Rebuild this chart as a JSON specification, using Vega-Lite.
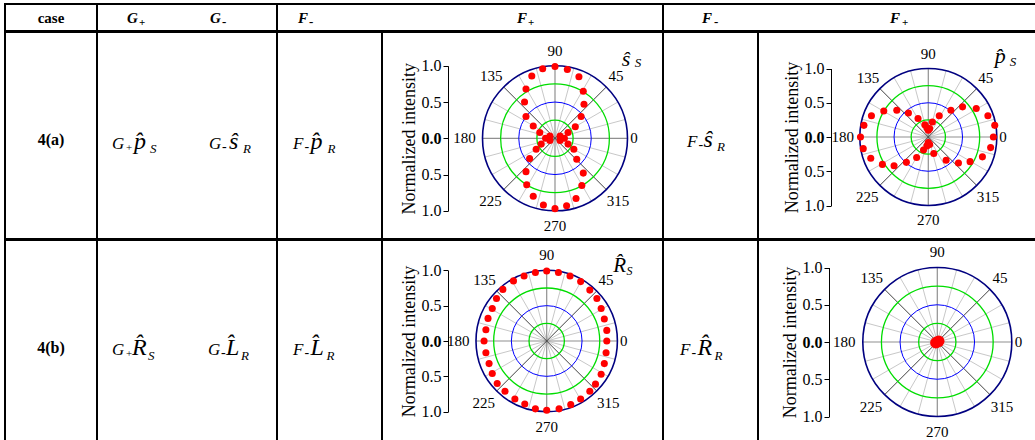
{
  "$schema": "https://vega.github.io/schema/vega-lite/v6.json",
  "background": "white",
  "padding": {"left": 4, "top": 3, "right": -2, "bottom": -2},
  "spacing": -2,
  "config": {
    "view": {"stroke": "black", "strokeWidth": 2},
    "font": "Liberation Serif, DejaVu Serif, serif",
    "mark": {"font": "Liberation Serif, DejaVu Serif, serif"},
    "text": {"font": "Liberation Serif, DejaVu Serif, serif", "color": "black"}
  },
  "datasets": {
    "spokes": [
      {"k": "main", "x": 1, "y": 0, "x2": -1, "y2": 0},
      {"k": "minor", "x": 0.9659, "y": 0.2588, "x2": -0.9659, "y2": -0.2588},
      {"k": "minor", "x": 0.866, "y": 0.5, "x2": -0.866, "y2": -0.5},
      {"k": "diag", "x": 0.7071, "y": 0.7071, "x2": -0.7071, "y2": -0.7071},
      {"k": "minor", "x": 0.5, "y": 0.866, "x2": -0.5, "y2": -0.866},
      {"k": "minor", "x": 0.2588, "y": 0.9659, "x2": -0.2588, "y2": -0.9659},
      {"k": "main", "x": 0, "y": 1, "x2": 0, "y2": -1},
      {"k": "minor", "x": -0.2588, "y": 0.9659, "x2": 0.2588, "y2": -0.9659},
      {"k": "minor", "x": -0.5, "y": 0.866, "x2": 0.5, "y2": -0.866},
      {"k": "diag", "x": -0.7071, "y": 0.7071, "x2": 0.7071, "y2": -0.7071},
      {"k": "minor", "x": -0.866, "y": 0.5, "x2": 0.866, "y2": -0.5},
      {"k": "minor", "x": -0.9659, "y": 0.2588, "x2": 0.9659, "y2": -0.2588}
    ],
    "rings": [
      {"k": "g", "r": 0.25}, {"k": "b", "r": 0.5}, {"k": "g", "r": 0.75}, {"k": "o", "r": 1}
    ],
    "angles": [
      {"lab": "0", "u": 1.09, "v": 0},
      {"lab": "45", "u": 0.84, "v": 0.86},
      {"lab": "90", "u": 0, "v": 1.21},
      {"lab": "135", "u": -0.88, "v": 0.86},
      {"lab": "180", "u": -1.25, "v": 0},
      {"lab": "225", "u": -0.89, "v": -0.87},
      {"lab": "270", "u": 0, "v": -1.21},
      {"lab": "315", "u": 0.87, "v": -0.87}
    ],
    "dots1": [
      {"u": 0, "v": 0.99}, {"u": 0.17, "v": 0.95}, {"u": -0.17, "v": 0.96}, {"u": 0.33, "v": 0.85}, {"u": -0.32, "v": 0.86},
      {"u": 0.39, "v": 0.65}, {"u": -0.4, "v": 0.68}, {"u": 0.4, "v": 0.47}, {"u": -0.42, "v": 0.5}, {"u": 0.36, "v": 0.3},
      {"u": -0.4, "v": 0.3}, {"u": 0.28, "v": 0.16}, {"u": -0.3, "v": 0.17}, {"u": 0.18, "v": 0.08}, {"u": -0.21, "v": 0.08},
      {"u": -0.13, "v": 0.0}, {"u": -0.07, "v": 0.03}, {"u": 0.07, "v": 0.03}, {"u": 0.13, "v": 0.0}, {"u": -0.07, "v": -0.03}, {"u": 0.07, "v": -0.03},
      {"u": 0, "v": -0.97}, {"u": 0.16, "v": -0.93}, {"u": -0.16, "v": -0.92}, {"u": 0.29, "v": -0.83}, {"u": -0.3, "v": -0.8},
      {"u": 0.37, "v": -0.65}, {"u": -0.39, "v": -0.64}, {"u": 0.39, "v": -0.48}, {"u": -0.4, "v": -0.46}, {"u": 0.3, "v": -0.29},
      {"u": -0.35, "v": -0.28}, {"u": 0.26, "v": -0.15}, {"u": -0.26, "v": -0.15}, {"u": 0.18, "v": -0.08}, {"u": -0.19, "v": -0.08}
    ],
    "dots2": [
      {"u": -0.99, "v": 0}, {"u": -0.94, "v": 0.17}, {"u": -0.95, "v": -0.17}, {"u": -0.83, "v": 0.31}, {"u": -0.84, "v": -0.31},
      {"u": -0.65, "v": 0.38}, {"u": -0.67, "v": -0.4}, {"u": -0.46, "v": 0.39}, {"u": -0.5, "v": -0.42}, {"u": -0.29, "v": 0.35},
      {"u": -0.32, "v": -0.37}, {"u": -0.15, "v": 0.27}, {"u": -0.17, "v": -0.3}, {"u": -0.05, "v": 0.18}, {"u": -0.07, "v": -0.19},
      {"u": 0.97, "v": 0.17}, {"u": 0.95, "v": 0}, {"u": 0.91, "v": -0.155}, {"u": 0.87, "v": 0.31}, {"u": 0.79, "v": -0.29},
      {"u": 0.7, "v": 0.415}, {"u": 0.61, "v": -0.36}, {"u": 0.5, "v": 0.44}, {"u": 0.44, "v": -0.38}, {"u": 0.33, "v": 0.39},
      {"u": 0.26, "v": -0.34}, {"u": 0.16, "v": 0.31}, {"u": 0.08, "v": -0.24}, {"u": 0.06, "v": 0.22},
      {"u": -0.02, "v": 0.135}, {"u": 0.02, "v": 0.125}, {"u": 0, "v": 0.1}, {"u": -0.02, "v": -0.13}, {"u": 0.02, "v": -0.11}, {"u": 0, "v": -0.08}
    ],
    "dots3": [
      {"u": -0.886, "v": 0}, {"u": -0.86, "v": 0.16}, {"u": -0.86, "v": -0.166}, {"u": -0.83, "v": 0.32}, {"u": -0.815, "v": -0.32},
      {"u": -0.77, "v": 0.46}, {"u": -0.77, "v": -0.46}, {"u": -0.71, "v": 0.6}, {"u": -0.7, "v": -0.6}, {"u": -0.62, "v": 0.73},
      {"u": -0.59, "v": -0.71}, {"u": -0.47, "v": 0.85}, {"u": -0.45, "v": -0.82}, {"u": -0.32, "v": 0.92}, {"u": -0.31, "v": -0.89},
      {"u": -0.16, "v": 0.97}, {"u": -0.16, "v": -0.96}, {"u": 0, "v": 0.99}, {"u": 0, "v": -0.98},
      {"u": 0.166, "v": 0.97}, {"u": 0.33, "v": 0.92}, {"u": 0.48, "v": 0.84}, {"u": 0.61, "v": 0.72}, {"u": 0.71, "v": 0.6},
      {"u": 0.77, "v": 0.46}, {"u": 0.815, "v": 0.31}, {"u": 0.85, "v": 0.15}, {"u": 0.85, "v": 0}, {"u": 0.84, "v": -0.166},
      {"u": 0.815, "v": -0.32}, {"u": 0.77, "v": -0.47}, {"u": 0.69, "v": -0.61}, {"u": 0.61, "v": -0.71}, {"u": 0.48, "v": -0.82},
      {"u": 0.34, "v": -0.9}, {"u": 0.175, "v": -0.96}
    ],
    "dots4": [
      {"u": 0, "v": 0}, {"u": 0.02, "v": 0.01}, {"u": -0.02, "v": -0.01}
    ]
  },
  "vconcat": [
    {
      "bounds": "flush",
      "spacing": 0,
      "hconcat": [
        {
          "width": 92, "height": 27,
          "data": {"values": [{"t": "case"}]},
          "mark": {"type": "text", "fontSize": 15, "fontWeight": "bold", "baseline": "alphabetic", "dy": 5.5},
          "encoding": {"x": {"datum": 0, "type": "quantitative", "axis": null, "scale": {"domain": [-1, 1]}}, "y": {"datum": 0, "type": "quantitative", "axis": null, "scale": {"domain": [-1, 1]}}, "text": {"field": "t"}}
        },
        {
          "width": 180, "height": 27,
          "data": {"values": [{"a": "G", "p": "+", "m": "-"}]},
          "encoding": {"x": {"datum": 0, "type": "quantitative", "axis": null, "scale": {"domain": [-1, 1]}}, "y": {"datum": 0, "type": "quantitative", "axis": null, "scale": {"domain": [-1, 1]}}},
          "layer": [
            {"mark": {"type": "text", "fontSize": 15, "fontWeight": "bold", "fontStyle": "italic", "align": "left", "baseline": "alphabetic", "dx": -60, "dy": 5.5}, "encoding": {"text": {"field": "a"}}},
            {"mark": {"type": "text", "fontSize": 11, "fontWeight": "bold", "align": "left", "baseline": "alphabetic", "dx": -48, "dy": 8}, "encoding": {"text": {"field": "p"}}},
            {"mark": {"type": "text", "fontSize": 15, "fontWeight": "bold", "fontStyle": "italic", "align": "left", "baseline": "alphabetic", "dx": 23, "dy": 5.5}, "encoding": {"text": {"field": "a"}}},
            {"mark": {"type": "text", "fontSize": 13, "fontWeight": "bold", "align": "left", "baseline": "alphabetic", "dx": 35, "dy": 8}, "encoding": {"text": {"field": "m"}}}
          ]
        },
        {
          "width": 386, "height": 27,
          "data": {"values": [{"a": "F", "p": "+", "m": "-"}]},
          "encoding": {"x": {"datum": 0, "type": "quantitative", "axis": null, "scale": {"domain": [-1, 1]}}, "y": {"datum": 0, "type": "quantitative", "axis": null, "scale": {"domain": [-1, 1]}}},
          "layer": [
            {"mark": {"type": "text", "fontSize": 15, "fontWeight": "bold", "fontStyle": "italic", "align": "left", "baseline": "alphabetic", "dx": -172, "dy": 5.5}, "encoding": {"text": {"field": "a"}}},
            {"mark": {"type": "text", "fontSize": 13, "fontWeight": "bold", "align": "left", "baseline": "alphabetic", "dx": -161, "dy": 8}, "encoding": {"text": {"field": "m"}}},
            {"mark": {"type": "text", "fontSize": 15, "fontWeight": "bold", "fontStyle": "italic", "align": "left", "baseline": "alphabetic", "dx": 47, "dy": 5.5}, "encoding": {"text": {"field": "a"}}},
            {"mark": {"type": "text", "fontSize": 11, "fontWeight": "bold", "align": "left", "baseline": "alphabetic", "dx": 58, "dy": 8}, "encoding": {"text": {"field": "p"}}}
          ]
        },
        {
          "width": 373, "height": 27,
          "data": {"values": [{"a": "F", "p": "+", "m": "-"}]},
          "encoding": {"x": {"datum": 0, "type": "quantitative", "axis": null, "scale": {"domain": [-1, 1]}}, "y": {"datum": 0, "type": "quantitative", "axis": null, "scale": {"domain": [-1, 1]}}},
          "layer": [
            {"mark": {"type": "text", "fontSize": 15, "fontWeight": "bold", "fontStyle": "italic", "align": "left", "baseline": "alphabetic", "dx": -147.5, "dy": 5.5}, "encoding": {"text": {"field": "a"}}},
            {"mark": {"type": "text", "fontSize": 13, "fontWeight": "bold", "align": "left", "baseline": "alphabetic", "dx": -135.5, "dy": 8}, "encoding": {"text": {"field": "m"}}},
            {"mark": {"type": "text", "fontSize": 15, "fontWeight": "bold", "fontStyle": "italic", "align": "left", "baseline": "alphabetic", "dx": 40.5, "dy": 5.5}, "encoding": {"text": {"field": "a"}}},
            {"mark": {"type": "text", "fontSize": 11, "fontWeight": "bold", "align": "left", "baseline": "alphabetic", "dx": 52.5, "dy": 8}, "encoding": {"text": {"field": "p"}}}
          ]
        }
      ]
    },
    {
      "bounds": "flush",
      "spacing": 0,
      "hconcat": [
        {
          "width": 92, "height": 207,
          "data": {"values": [{"t": "4(a)"}]},
          "mark": {"type": "text", "fontSize": 16, "fontWeight": "bold", "baseline": "alphabetic", "dy": 9},
          "encoding": {"x": {"datum": 0, "type": "quantitative", "axis": null, "scale": {"domain": [-1, 1]}}, "y": {"datum": 0, "type": "quantitative", "axis": null, "scale": {"domain": [-1, 1]}}, "text": {"field": "t"}}
        },
        {
          "width": 180, "height": 207,
          "data": {"values": [{"g": "G", "p": "+", "m": "-", "h1": "p̂", "s1": "S", "h2": "ŝ", "s2": "R"}]},
          "encoding": {"x": {"datum": 0, "type": "quantitative", "axis": null, "scale": {"domain": [-1, 1]}}, "y": {"datum": 0, "type": "quantitative", "axis": null, "scale": {"domain": [-1, 1]}}},
          "layer": [
            {"mark": {"type": "text", "fontSize": 17, "fontStyle": "italic", "align": "left", "baseline": "alphabetic", "dx": -75, "dy": 13}, "encoding": {"text": {"field": "g"}}},
            {"mark": {"type": "text", "fontSize": 11, "align": "left", "baseline": "alphabetic", "dx": -61, "dy": 15}, "encoding": {"text": {"field": "p"}}},
            {"mark": {"type": "text", "fontSize": 24, "fontStyle": "italic", "align": "left", "baseline": "alphabetic", "dx": -53, "dy": 13}, "encoding": {"text": {"field": "h1"}}},
            {"mark": {"type": "text", "fontSize": 13, "fontStyle": "italic", "align": "left", "baseline": "alphabetic", "dx": -37, "dy": 17}, "encoding": {"text": {"field": "s1"}}},
            {"mark": {"type": "text", "fontSize": 17, "fontStyle": "italic", "align": "left", "baseline": "alphabetic", "dx": 22, "dy": 13}, "encoding": {"text": {"field": "g"}}},
            {"mark": {"type": "text", "fontSize": 14, "align": "left", "baseline": "alphabetic", "dx": 35, "dy": 15}, "encoding": {"text": {"field": "m"}}},
            {"mark": {"type": "text", "fontSize": 24, "fontStyle": "italic", "align": "left", "baseline": "alphabetic", "dx": 42, "dy": 13}, "encoding": {"text": {"field": "h2"}}},
            {"mark": {"type": "text", "fontSize": 13, "fontStyle": "italic", "align": "left", "baseline": "alphabetic", "dx": 56, "dy": 17}, "encoding": {"text": {"field": "s2"}}}
          ]
        },
        {
          "width": 105, "height": 207,
          "data": {"values": [{"f": "F", "m": "-", "h": "p̂", "s": "R"}]},
          "encoding": {"x": {"datum": 0, "type": "quantitative", "axis": null, "scale": {"domain": [-1, 1]}}, "y": {"datum": 0, "type": "quantitative", "axis": null, "scale": {"domain": [-1, 1]}}},
          "layer": [
            {"mark": {"type": "text", "fontSize": 17, "fontStyle": "italic", "align": "left", "baseline": "alphabetic", "dx": -36.5, "dy": 13}, "encoding": {"text": {"field": "f"}}},
            {"mark": {"type": "text", "fontSize": 14, "align": "left", "baseline": "alphabetic", "dx": -25, "dy": 15}, "encoding": {"text": {"field": "m"}}},
            {"mark": {"type": "text", "fontSize": 24, "fontStyle": "italic", "align": "left", "baseline": "alphabetic", "dx": -19, "dy": 13}, "encoding": {"text": {"field": "h"}}},
            {"mark": {"type": "text", "fontSize": 13, "fontStyle": "italic", "align": "left", "baseline": "alphabetic", "dx": -2, "dy": 17}, "encoding": {"text": {"field": "s"}}}
          ]
        },
        {
          "width": 281, "height": 207,
          "layer": [
            {"data": {"name": "spokes"}, "transform": [{"filter": "datum.k == 'minor'"}],
             "mark": {"type": "rule", "color": "#c8c8c8", "strokeWidth": 1},
             "encoding": {
               "x": {"field": "x", "type": "quantitative", "axis": null, "scale": {"domain": [-1, 1], "range": [100.5, 245.5], "nice": false, "zero": false}},
               "y": {"field": "y", "type": "quantitative", "scale": {"domain": [-1, 1], "range": [178.8, 33.8], "nice": false, "zero": false},
                     "axis": {"orient": "left", "offset": -66, "values": [-1, -0.5, 0, 0.5, 1], "labelExpr": "format(abs(datum.value), '.1f')", "title": "Normalized intensity", "titleFont": "Liberation Serif", "titleFontSize": 18, "titleFontWeight": "normal", "titleColor": "black", "titlePadding": 3, "labelFont": "Liberation Serif, DejaVu Serif, serif", "labelFontSize": 16, "labelColor": "black", "labelFontWeight": {"condition": {"test": "datum.value == 0", "value": "bold"}, "value": "normal"}, "labelPadding": 2, "tickSize": 5, "tickColor": "black", "domainColor": "black", "grid": false, "labelFlush": false, "labelOverlap": false}},
               "x2": {"field": "x2"}, "y2": {"field": "y2"}}},
            {"data": {"name": "spokes"}, "transform": [{"filter": "datum.k == 'main'"}],
             "mark": {"type": "rule", "color": "#909090", "strokeWidth": 1.2},
             "encoding": {"x": {"field": "x", "type": "quantitative", "axis": null}, "y": {"field": "y", "type": "quantitative"}, "x2": {"field": "x2"}, "y2": {"field": "y2"}}},
            {"data": {"name": "spokes"}, "transform": [{"filter": "datum.k == 'diag'"}],
             "mark": {"type": "rule", "color": "#404040", "strokeWidth": 1},
             "encoding": {"x": {"field": "x", "type": "quantitative", "axis": null}, "y": {"field": "y", "type": "quantitative"}, "x2": {"field": "x2"}, "y2": {"field": "y2"}}},
            {"data": {"name": "rings"}, "transform": [{"filter": "datum.k == 'g'"}],
             "mark": {"type": "arc", "filled": false, "color": "#00dd00", "strokeWidth": 1.3, "theta": 0, "theta2": 6.2832},
             "encoding": {"x": {"datum": 0, "type": "quantitative", "axis": null}, "y": {"datum": 0, "type": "quantitative"},
                          "radius": {"field": "r", "type": "quantitative", "stack": null, "scale": {"type": "linear", "domain": [0, 1], "range": [0, 72.5], "zero": true, "nice": false}}}},
            {"data": {"name": "rings"}, "transform": [{"filter": "datum.k == 'b'"}],
             "mark": {"type": "arc", "filled": false, "color": "#0000ff", "strokeWidth": 1, "theta": 0, "theta2": 6.2832},
             "encoding": {"x": {"datum": 0, "type": "quantitative", "axis": null}, "y": {"datum": 0, "type": "quantitative"},
                          "radius": {"field": "r", "type": "quantitative", "stack": null}}},
            {"data": {"name": "rings"}, "transform": [{"filter": "datum.k == 'o'"}],
             "mark": {"type": "arc", "filled": false, "color": "#000080", "strokeWidth": 1.6, "theta": 0, "theta2": 6.2832},
             "encoding": {"x": {"datum": 0, "type": "quantitative", "axis": null}, "y": {"datum": 0, "type": "quantitative"},
                          "radius": {"field": "r", "type": "quantitative", "stack": null}}},
            {"data": {"name": "dots1"},
             "mark": {"type": "point", "filled": true, "color": "#ff0000", "size": 50, "opacity": 1},
             "encoding": {"x": {"field": "u", "type": "quantitative", "axis": null}, "y": {"field": "v", "type": "quantitative"}}},
            {"data": {"name": "angles"},
             "mark": {"type": "text", "fontSize": 15, "align": "center", "baseline": "middle"},
             "encoding": {"x": {"field": "u", "type": "quantitative", "axis": null}, "y": {"field": "v", "type": "quantitative"}, "text": {"field": "lab"}}},
            {"data": {"values": [{"t": "ŝ", "u": 0.92, "v": 1.0}]},
             "mark": {"type": "text", "fontSize": 22, "fontStyle": "italic", "align": "left", "baseline": "alphabetic"},
             "encoding": {"x": {"field": "u", "type": "quantitative", "axis": null}, "y": {"field": "v", "type": "quantitative"}, "text": {"field": "t"}}},
            {"data": {"values": [{"t": "S", "u": 1.1, "v": 0.99}]},
             "mark": {"type": "text", "fontSize": 13, "fontStyle": "italic", "align": "left", "baseline": "alphabetic"},
             "encoding": {"x": {"field": "u", "type": "quantitative", "axis": null}, "y": {"field": "v", "type": "quantitative"}, "text": {"field": "t"}}}
          ]
        },
        {
          "width": 95, "height": 207,
          "data": {"values": [{"f": "F", "m": "-", "h": "ŝ", "s": "R"}]},
          "encoding": {"x": {"datum": 0, "type": "quantitative", "axis": null, "scale": {"domain": [-1, 1]}}, "y": {"datum": 0, "type": "quantitative", "axis": null, "scale": {"domain": [-1, 1]}}},
          "layer": [
            {"mark": {"type": "text", "fontSize": 17, "fontStyle": "italic", "align": "left", "baseline": "alphabetic", "dx": -23.5, "dy": 11}, "encoding": {"text": {"field": "f"}}},
            {"mark": {"type": "text", "fontSize": 14, "align": "left", "baseline": "alphabetic", "dx": -12, "dy": 13}, "encoding": {"text": {"field": "m"}}},
            {"mark": {"type": "text", "fontSize": 24, "fontStyle": "italic", "align": "left", "baseline": "alphabetic", "dx": -7, "dy": 11}, "encoding": {"text": {"field": "h"}}},
            {"mark": {"type": "text", "fontSize": 13, "fontStyle": "italic", "align": "left", "baseline": "alphabetic", "dx": 6.5, "dy": 15}, "encoding": {"text": {"field": "s"}}}
          ]
        },
        {
          "width": 278, "height": 207,
          "layer": [
            {"data": {"name": "spokes"}, "transform": [{"filter": "datum.k == 'minor'"}],
             "mark": {"type": "rule", "color": "#c8c8c8", "strokeWidth": 1},
             "encoding": {
               "x": {"field": "x", "type": "quantitative", "axis": null, "scale": {"domain": [-1, 1], "range": [101.8, 238.8], "nice": false, "zero": false}},
               "y": {"field": "y", "type": "quantitative", "scale": {"domain": [-1, 1], "range": [173.5, 36.5], "nice": false, "zero": false},
                     "axis": {"orient": "left", "offset": -73, "values": [-1, -0.5, 0, 0.5, 1], "labelExpr": "format(abs(datum.value), '.1f')", "title": "Normalized intensity", "titleFont": "Liberation Serif", "titleFontSize": 18, "titleFontWeight": "normal", "titleColor": "black", "titlePadding": 3, "labelFont": "Liberation Serif, DejaVu Serif, serif", "labelFontSize": 16, "labelColor": "black", "labelFontWeight": {"condition": {"test": "datum.value == 0", "value": "bold"}, "value": "normal"}, "labelPadding": 2, "tickSize": 5, "tickColor": "black", "domainColor": "black", "grid": false, "labelFlush": false, "labelOverlap": false}},
               "x2": {"field": "x2"}, "y2": {"field": "y2"}}},
            {"data": {"name": "spokes"}, "transform": [{"filter": "datum.k == 'main'"}],
             "mark": {"type": "rule", "color": "#909090", "strokeWidth": 1.2},
             "encoding": {"x": {"field": "x", "type": "quantitative", "axis": null}, "y": {"field": "y", "type": "quantitative"}, "x2": {"field": "x2"}, "y2": {"field": "y2"}}},
            {"data": {"name": "spokes"}, "transform": [{"filter": "datum.k == 'diag'"}],
             "mark": {"type": "rule", "color": "#404040", "strokeWidth": 1},
             "encoding": {"x": {"field": "x", "type": "quantitative", "axis": null}, "y": {"field": "y", "type": "quantitative"}, "x2": {"field": "x2"}, "y2": {"field": "y2"}}},
            {"data": {"name": "rings"}, "transform": [{"filter": "datum.k == 'g'"}],
             "mark": {"type": "arc", "filled": false, "color": "#00dd00", "strokeWidth": 1.3, "theta": 0, "theta2": 6.2832},
             "encoding": {"x": {"datum": 0, "type": "quantitative", "axis": null}, "y": {"datum": 0, "type": "quantitative"},
                          "radius": {"field": "r", "type": "quantitative", "stack": null, "scale": {"type": "linear", "domain": [0, 1], "range": [0, 68.5], "zero": true, "nice": false}}}},
            {"data": {"name": "rings"}, "transform": [{"filter": "datum.k == 'b'"}],
             "mark": {"type": "arc", "filled": false, "color": "#0000ff", "strokeWidth": 1, "theta": 0, "theta2": 6.2832},
             "encoding": {"x": {"datum": 0, "type": "quantitative", "axis": null}, "y": {"datum": 0, "type": "quantitative"},
                          "radius": {"field": "r", "type": "quantitative", "stack": null}}},
            {"data": {"name": "rings"}, "transform": [{"filter": "datum.k == 'o'"}],
             "mark": {"type": "arc", "filled": false, "color": "#000080", "strokeWidth": 1.6, "theta": 0, "theta2": 6.2832},
             "encoding": {"x": {"datum": 0, "type": "quantitative", "axis": null}, "y": {"datum": 0, "type": "quantitative"},
                          "radius": {"field": "r", "type": "quantitative", "stack": null}}},
            {"data": {"name": "dots2"},
             "mark": {"type": "point", "filled": true, "color": "#ff0000", "size": 50, "opacity": 1},
             "encoding": {"x": {"field": "u", "type": "quantitative", "axis": null}, "y": {"field": "v", "type": "quantitative"}}},
            {"data": {"name": "angles"},
             "mark": {"type": "text", "fontSize": 15, "align": "center", "baseline": "middle"},
             "encoding": {"x": {"field": "u", "type": "quantitative", "axis": null}, "y": {"field": "v", "type": "quantitative"}, "text": {"field": "lab"}}},
            {"data": {"values": [{"t": "p̂", "u": 0.97, "v": 1.08}]},
             "mark": {"type": "text", "fontSize": 22, "fontStyle": "italic", "align": "left", "baseline": "alphabetic"},
             "encoding": {"x": {"field": "u", "type": "quantitative", "axis": null}, "y": {"field": "v", "type": "quantitative"}, "text": {"field": "t"}}},
            {"data": {"values": [{"t": "S", "u": 1.19, "v": 1.04}]},
             "mark": {"type": "text", "fontSize": 13, "fontStyle": "italic", "align": "left", "baseline": "alphabetic"},
             "encoding": {"x": {"field": "u", "type": "quantitative", "axis": null}, "y": {"field": "v", "type": "quantitative"}, "text": {"field": "t"}}}
          ]
        }
      ]
    },
    {
      "bounds": "flush",
      "spacing": 0,
      "hconcat": [
        {
          "width": 92, "height": 203,
          "data": {"values": [{"t": "4(b)"}]},
          "mark": {"type": "text", "fontSize": 16, "fontWeight": "bold", "baseline": "alphabetic", "dy": 11},
          "encoding": {"x": {"datum": 0, "type": "quantitative", "axis": null, "scale": {"domain": [-1, 1]}}, "y": {"datum": 0, "type": "quantitative", "axis": null, "scale": {"domain": [-1, 1]}}, "text": {"field": "t"}}
        },
        {
          "width": 180, "height": 203,
          "data": {"values": [{"g": "G", "p": "+", "m": "-", "h1": "R̂", "s1": "S", "h2": "L̂", "s2": "R"}]},
          "encoding": {"x": {"datum": 0, "type": "quantitative", "axis": null, "scale": {"domain": [-1, 1]}}, "y": {"datum": 0, "type": "quantitative", "axis": null, "scale": {"domain": [-1, 1]}}},
          "layer": [
            {"mark": {"type": "text", "fontSize": 17, "fontStyle": "italic", "align": "left", "baseline": "alphabetic", "dx": -75, "dy": 13}, "encoding": {"text": {"field": "g"}}},
            {"mark": {"type": "text", "fontSize": 11, "align": "left", "baseline": "alphabetic", "dx": -61, "dy": 15}, "encoding": {"text": {"field": "p"}}},
            {"mark": {"type": "text", "fontSize": 24, "fontStyle": "italic", "align": "left", "baseline": "alphabetic", "dx": -55, "dy": 13}, "encoding": {"text": {"field": "h1"}}},
            {"mark": {"type": "text", "fontSize": 13, "fontStyle": "italic", "align": "left", "baseline": "alphabetic", "dx": -39, "dy": 18}, "encoding": {"text": {"field": "s1"}}},
            {"mark": {"type": "text", "fontSize": 17, "fontStyle": "italic", "align": "left", "baseline": "alphabetic", "dx": 21, "dy": 13}, "encoding": {"text": {"field": "g"}}},
            {"mark": {"type": "text", "fontSize": 14, "align": "left", "baseline": "alphabetic", "dx": 34, "dy": 15}, "encoding": {"text": {"field": "m"}}},
            {"mark": {"type": "text", "fontSize": 24, "fontStyle": "italic", "align": "left", "baseline": "alphabetic", "dx": 39, "dy": 13}, "encoding": {"text": {"field": "h2"}}},
            {"mark": {"type": "text", "fontSize": 13, "fontStyle": "italic", "align": "left", "baseline": "alphabetic", "dx": 54, "dy": 18}, "encoding": {"text": {"field": "s2"}}}
          ]
        },
        {
          "width": 105, "height": 203,
          "data": {"values": [{"f": "F", "m": "-", "h": "L̂", "s": "R"}]},
          "encoding": {"x": {"datum": 0, "type": "quantitative", "axis": null, "scale": {"domain": [-1, 1]}}, "y": {"datum": 0, "type": "quantitative", "axis": null, "scale": {"domain": [-1, 1]}}},
          "layer": [
            {"mark": {"type": "text", "fontSize": 17, "fontStyle": "italic", "align": "left", "baseline": "alphabetic", "dx": -36.5, "dy": 13}, "encoding": {"text": {"field": "f"}}},
            {"mark": {"type": "text", "fontSize": 14, "align": "left", "baseline": "alphabetic", "dx": -25, "dy": 15}, "encoding": {"text": {"field": "m"}}},
            {"mark": {"type": "text", "fontSize": 24, "fontStyle": "italic", "align": "left", "baseline": "alphabetic", "dx": -19, "dy": 13}, "encoding": {"text": {"field": "h"}}},
            {"mark": {"type": "text", "fontSize": 13, "fontStyle": "italic", "align": "left", "baseline": "alphabetic", "dx": -3, "dy": 18}, "encoding": {"text": {"field": "s"}}}
          ]
        },
        {
          "width": 281, "height": 203,
          "layer": [
            {"data": {"name": "spokes"}, "transform": [{"filter": "datum.k == 'minor'"}],
             "mark": {"type": "rule", "color": "#c8c8c8", "strokeWidth": 1},
             "encoding": {
               "x": {"field": "x", "type": "quantitative", "axis": null, "scale": {"domain": [-1, 1], "range": [94, 235.4], "nice": false, "zero": false}},
               "y": {"field": "y", "type": "quantitative", "scale": {"domain": [-1, 1], "range": [171.7, 30.3], "nice": false, "zero": false},
                     "axis": {"orient": "left", "offset": -66, "values": [-1, -0.5, 0, 0.5, 1], "labelExpr": "format(abs(datum.value), '.1f')", "title": "Normalized intensity", "titleFont": "Liberation Serif", "titleFontSize": 18, "titleFontWeight": "normal", "titleColor": "black", "titlePadding": 3, "labelFont": "Liberation Serif, DejaVu Serif, serif", "labelFontSize": 16, "labelColor": "black", "labelFontWeight": {"condition": {"test": "datum.value == 0", "value": "bold"}, "value": "normal"}, "labelPadding": 2, "tickSize": 5, "tickColor": "black", "domainColor": "black", "grid": false, "labelFlush": false, "labelOverlap": false}},
               "x2": {"field": "x2"}, "y2": {"field": "y2"}}},
            {"data": {"name": "spokes"}, "transform": [{"filter": "datum.k == 'main'"}],
             "mark": {"type": "rule", "color": "#909090", "strokeWidth": 1.2},
             "encoding": {"x": {"field": "x", "type": "quantitative", "axis": null}, "y": {"field": "y", "type": "quantitative"}, "x2": {"field": "x2"}, "y2": {"field": "y2"}}},
            {"data": {"name": "spokes"}, "transform": [{"filter": "datum.k == 'diag'"}],
             "mark": {"type": "rule", "color": "#404040", "strokeWidth": 1},
             "encoding": {"x": {"field": "x", "type": "quantitative", "axis": null}, "y": {"field": "y", "type": "quantitative"}, "x2": {"field": "x2"}, "y2": {"field": "y2"}}},
            {"data": {"name": "rings"}, "transform": [{"filter": "datum.k == 'g'"}],
             "mark": {"type": "arc", "filled": false, "color": "#00dd00", "strokeWidth": 1.3, "theta": 0, "theta2": 6.2832},
             "encoding": {"x": {"datum": 0, "type": "quantitative", "axis": null}, "y": {"datum": 0, "type": "quantitative"},
                          "radius": {"field": "r", "type": "quantitative", "stack": null, "scale": {"type": "linear", "domain": [0, 1], "range": [0, 70.7], "zero": true, "nice": false}}}},
            {"data": {"name": "rings"}, "transform": [{"filter": "datum.k == 'b'"}],
             "mark": {"type": "arc", "filled": false, "color": "#0000ff", "strokeWidth": 1, "theta": 0, "theta2": 6.2832},
             "encoding": {"x": {"datum": 0, "type": "quantitative", "axis": null}, "y": {"datum": 0, "type": "quantitative"},
                          "radius": {"field": "r", "type": "quantitative", "stack": null}}},
            {"data": {"name": "rings"}, "transform": [{"filter": "datum.k == 'o'"}],
             "mark": {"type": "arc", "filled": false, "color": "#000080", "strokeWidth": 1.6, "theta": 0, "theta2": 6.2832},
             "encoding": {"x": {"datum": 0, "type": "quantitative", "axis": null}, "y": {"datum": 0, "type": "quantitative"},
                          "radius": {"field": "r", "type": "quantitative", "stack": null}}},
            {"data": {"name": "dots3"},
             "mark": {"type": "point", "filled": true, "color": "#ff0000", "size": 50, "opacity": 1},
             "encoding": {"x": {"field": "u", "type": "quantitative", "axis": null}, "y": {"field": "v", "type": "quantitative"}}},
            {"data": {"name": "angles"},
             "mark": {"type": "text", "fontSize": 15, "align": "center", "baseline": "middle"},
             "encoding": {"x": {"field": "u", "type": "quantitative", "axis": null}, "y": {"field": "v", "type": "quantitative"}, "text": {"field": "lab"}}},
            {"data": {"values": [{"t": "R̂", "u": 0.94, "v": 0.976}]},
             "mark": {"type": "text", "fontSize": 21, "fontStyle": "italic", "align": "left", "baseline": "alphabetic"},
             "encoding": {"x": {"field": "u", "type": "quantitative", "axis": null}, "y": {"field": "v", "type": "quantitative"}, "text": {"field": "t"}}},
            {"data": {"values": [{"t": "S", "u": 1.13, "v": 0.94}]},
             "mark": {"type": "text", "fontSize": 12, "fontStyle": "italic", "align": "left", "baseline": "alphabetic"},
             "encoding": {"x": {"field": "u", "type": "quantitative", "axis": null}, "y": {"field": "v", "type": "quantitative"}, "text": {"field": "t"}}}
          ]
        },
        {
          "width": 95, "height": 203,
          "data": {"values": [{"f": "F", "m": "-", "h": "R̂", "s": "R"}]},
          "encoding": {"x": {"datum": 0, "type": "quantitative", "axis": null, "scale": {"domain": [-1, 1]}}, "y": {"datum": 0, "type": "quantitative", "axis": null, "scale": {"domain": [-1, 1]}}},
          "layer": [
            {"mark": {"type": "text", "fontSize": 17, "fontStyle": "italic", "align": "left", "baseline": "alphabetic", "dx": -30.5, "dy": 13}, "encoding": {"text": {"field": "f"}}},
            {"mark": {"type": "text", "fontSize": 14, "align": "left", "baseline": "alphabetic", "dx": -19, "dy": 15}, "encoding": {"text": {"field": "m"}}},
            {"mark": {"type": "text", "fontSize": 24, "fontStyle": "italic", "align": "left", "baseline": "alphabetic", "dx": -13, "dy": 13}, "encoding": {"text": {"field": "h"}}},
            {"mark": {"type": "text", "fontSize": 13, "fontStyle": "italic", "align": "left", "baseline": "alphabetic", "dx": 4, "dy": 18}, "encoding": {"text": {"field": "s"}}}
          ]
        },
        {
          "width": 278, "height": 203,
          "layer": [
            {"data": {"name": "spokes"}, "transform": [{"filter": "datum.k == 'minor'"}],
             "mark": {"type": "rule", "color": "#c8c8c8", "strokeWidth": 1},
             "encoding": {
               "x": {"field": "x", "type": "quantitative", "axis": null, "scale": {"domain": [-1, 1], "range": [104.8, 253.8], "nice": false, "zero": false}},
               "y": {"field": "y", "type": "quantitative", "scale": {"domain": [-1, 1], "range": [176.5, 27.5], "nice": false, "zero": false},
                     "axis": {"orient": "left", "offset": -71, "values": [-1, -0.5, 0, 0.5, 1], "labelExpr": "format(abs(datum.value), '.1f')", "title": "Normalized intensity", "titleFont": "Liberation Serif", "titleFontSize": 18, "titleFontWeight": "normal", "titleColor": "black", "titlePadding": 3, "labelFont": "Liberation Serif, DejaVu Serif, serif", "labelFontSize": 16, "labelColor": "black", "labelFontWeight": {"condition": {"test": "datum.value == 0", "value": "bold"}, "value": "normal"}, "labelPadding": 2, "tickSize": 5, "tickColor": "black", "domainColor": "black", "grid": false, "labelFlush": false, "labelOverlap": false}},
               "x2": {"field": "x2"}, "y2": {"field": "y2"}}},
            {"data": {"name": "spokes"}, "transform": [{"filter": "datum.k == 'main'"}],
             "mark": {"type": "rule", "color": "#909090", "strokeWidth": 1.2},
             "encoding": {"x": {"field": "x", "type": "quantitative", "axis": null}, "y": {"field": "y", "type": "quantitative"}, "x2": {"field": "x2"}, "y2": {"field": "y2"}}},
            {"data": {"name": "spokes"}, "transform": [{"filter": "datum.k == 'diag'"}],
             "mark": {"type": "rule", "color": "#404040", "strokeWidth": 1},
             "encoding": {"x": {"field": "x", "type": "quantitative", "axis": null}, "y": {"field": "y", "type": "quantitative"}, "x2": {"field": "x2"}, "y2": {"field": "y2"}}},
            {"data": {"name": "rings"}, "transform": [{"filter": "datum.k == 'g'"}],
             "mark": {"type": "arc", "filled": false, "color": "#00dd00", "strokeWidth": 1.3, "theta": 0, "theta2": 6.2832},
             "encoding": {"x": {"datum": 0, "type": "quantitative", "axis": null}, "y": {"datum": 0, "type": "quantitative"},
                          "radius": {"field": "r", "type": "quantitative", "stack": null, "scale": {"type": "linear", "domain": [0, 1], "range": [0, 74.5], "zero": true, "nice": false}}}},
            {"data": {"name": "rings"}, "transform": [{"filter": "datum.k == 'b'"}],
             "mark": {"type": "arc", "filled": false, "color": "#0000ff", "strokeWidth": 1, "theta": 0, "theta2": 6.2832},
             "encoding": {"x": {"datum": 0, "type": "quantitative", "axis": null}, "y": {"datum": 0, "type": "quantitative"},
                          "radius": {"field": "r", "type": "quantitative", "stack": null}}},
            {"data": {"name": "rings"}, "transform": [{"filter": "datum.k == 'o'"}],
             "mark": {"type": "arc", "filled": false, "color": "#000080", "strokeWidth": 1.6, "theta": 0, "theta2": 6.2832},
             "encoding": {"x": {"datum": 0, "type": "quantitative", "axis": null}, "y": {"datum": 0, "type": "quantitative"},
                          "radius": {"field": "r", "type": "quantitative", "stack": null}}},
            {"data": {"name": "dots4"},
             "mark": {"type": "point", "filled": true, "color": "#ff0000", "size": 130, "opacity": 1},
             "encoding": {"x": {"field": "u", "type": "quantitative", "axis": null}, "y": {"field": "v", "type": "quantitative"}}},
            {"data": {"name": "angles"},
             "mark": {"type": "text", "fontSize": 15, "align": "center", "baseline": "middle"},
             "encoding": {"x": {"field": "u", "type": "quantitative", "axis": null}, "y": {"field": "v", "type": "quantitative"}, "text": {"field": "lab"}}}
          ]
        }
      ]
    }
  ]
}
